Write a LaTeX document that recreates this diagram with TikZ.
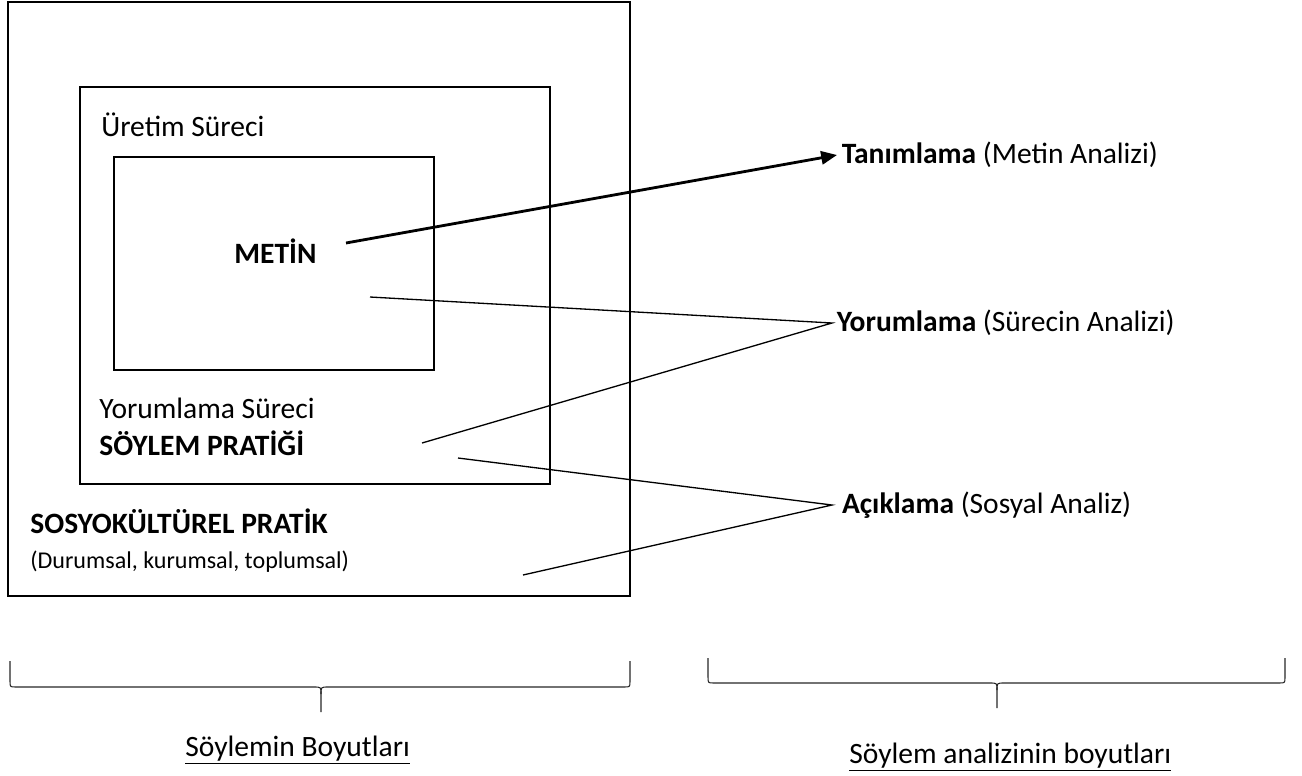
\documentclass[tikz,border=0pt]{standalone}
\usepackage{fontspec}
\setmainfont{Carlito}
\usetikzlibrary{arrows.meta}

\begin{document}
\begin{tikzpicture}[x=0.02cm, y=-0.02cm,
    every node/.style={inner sep=0pt, font=\fontsize{16.8}{20}\selectfont},
    frame/.style={line width=1.4pt},
    link/.style={line width=0.75pt},
    brace/.style={line width=0.6pt, black!85},
    txt/.style={anchor=base west},
    analysis/.style={anchor=west, inner xsep=2.5pt}]
  \useasboundingbox (0,0) rectangle (1302,775);

  % Nested practices: sociocultural, discourse, text
  \draw[frame] (8,2) rectangle (630,596);
  \draw[frame] (80,87) rectangle (550,484);
  \draw[frame] (114,157) rectangle (434,370);

  % Labels inside the boxes
  \node[txt] (uretim) at (101,136) {Üretim Süreci};
  \node[txt] (metin) at (234,263) {\bfseries METİN};
  \node[txt] (yorumsurec) at (99,418) {Yorumlama Süreci};
  \node[txt] (soylem) at (99,455) {\bfseries SÖYLEM PRATİĞİ};
  \node[txt] (sosyo) at (30,533) {\bfseries SOSYOKÜLTÜREL PRATİK};
  \node[txt, font=\fontsize{13.7}{16}\selectfont] (durum) at (30,568)
    {(Durumsal, kurumsal, toplumsal)};

  % Dimensions of the analysis
  \node[analysis] (tanim) at (837,155) {\textbf{Tanımlama} (Metin Analizi)};
  \node[analysis] (yorum) at (832,323) {\textbf{Yorumlama} (Sürecin Analizi)};
  \node[analysis, inner xsep=5.5pt] (acik) at (832,505) {\textbf{Açıklama} (Sosyal Analiz)};

  % Free ends of the connectors, inside the boxes
  \coordinate (metinEnd) at (346,243);
  \coordinate (textEnd) at (370,297);
  \coordinate (pratikEnd) at (422,443);
  \coordinate (pratikEnd2) at (458,458);
  \coordinate (sosyoEnd) at (523,575);

  % Connectors
  \draw[line width=1.6pt, -{Triangle[length=9pt,width=7.5pt]}] (metinEnd) -- (tanim.west);
  \draw[link] (textEnd) -- (yorum.west) -- (pratikEnd);
  \draw[link] (pratikEnd2) -- (acik.west) -- (sosyoEnd);

  % Left brace
  \draw[brace] (10,661) -- (10,681) .. controls (10,687) .. (16,687) -- (314,687)
    .. controls (321,687) .. (321,694) -- (321,712);
  \draw[brace] (630,661) -- (630,681) .. controls (630,687) .. (624,687) -- (328,687)
    .. controls (321,687) .. (321,694);
  % Right brace
  \draw[brace] (708,658) -- (708,677) .. controls (708,683) .. (714,683) -- (990,683)
    .. controls (997,683) .. (997,690) -- (997,708);
  \draw[brace] (1285,658) -- (1285,677) .. controls (1285,683) .. (1279,683) -- (1004,683)
    .. controls (997,683) .. (997,690);

  % Captions under the braces
  \node[txt] (boyutL) at (185,756) {\underline{Söylemin Boyutları}};
  \node[txt] (boyutR) at (849,763) {\underline{Söylem analizinin boyutları}};
\end{tikzpicture}
\end{document}
